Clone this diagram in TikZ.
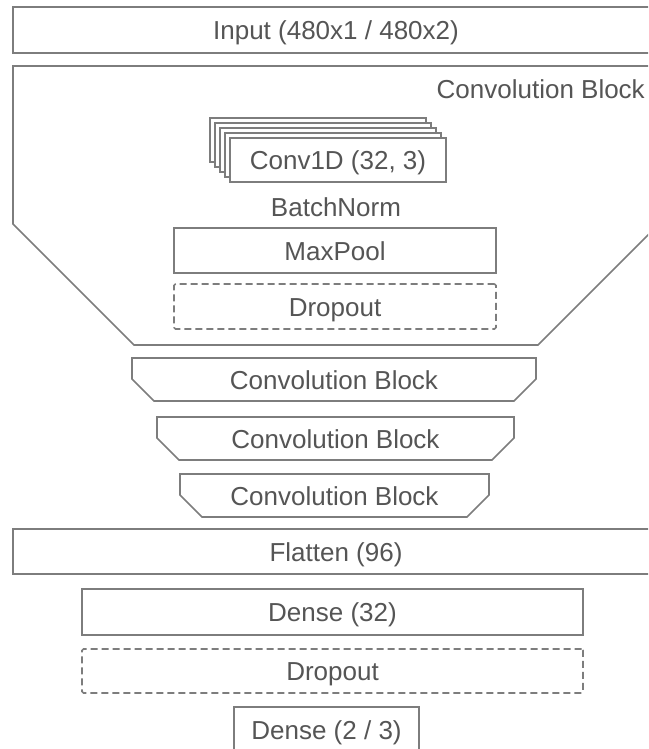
\documentclass[tikz,border=0pt]{standalone}
\usepackage{fontspec}
\setmainfont{Liberation Sans}
\definecolor{linegray}{RGB}{125,125,125}
\definecolor{textgray}{RGB}{85,85,85}
\def\blockshape[#1](#2:#3:#4:#5:#6){\draw[#1] (#2,#4) -- (#3,#4) -- (#3,#5-#6) -- (#3-#6,#5) -- (#2+#6,#5) -- (#2,#5-#6) -- cycle;}

\begin{document}
\begin{tikzpicture}[x=1pt,y=-1pt,
	blockline/.style={draw=linegray, line width=1.6pt, fill=white},
	tag/.style={inner sep=0pt, text=textgray, font=\fontsize{26}{30}\selectfont, text height=19pt, text depth=0pt},
	layer/.style={tag, draw=linegray, line width=1.6pt, fill=white},
	droplayer/.style={layer, dash pattern=on 7pt off 4pt, rounded corners=1.5pt}]
			%%%%% START %%%%%
			\useasboundingbox (0,0) rectangle (648,749);
			\clip (0,0) rectangle (648,749);
			
			\node[layer, minimum width=646, minimum height=46] (input) at (336,30) {Input (480x1 / 480x2)};
			
			% first block, opened up
			\blockshape[blockline](13:659:66:345:121)
			\node[tag, anchor=east] (convtitle) at (645,89) {Convolution Block};
			
			\foreach \k in {4,3,2,1}
				\draw[blockline] (230-5*\k,138-5*\k) rectangle +(216,44);
			\node[layer, minimum width=216, minimum height=44] (conv1d) at (338,160) {Conv1D (32, 3)};
			\node[tag] (batchnorm) at (336,207) {BatchNorm};
			\node[layer, minimum width=322, minimum height=45] (maxpool) at (335,250.5) {MaxPool};
			\node[droplayer, minimum width=322, minimum height=45] (convdrop) at (335,306.5) {Dropout};
			
			% the other blocks
			\blockshape[blockline](132:536:358:401:22)
			\node[tag] (convb) at (334,380) {Convolution Block};
			\blockshape[blockline](157:514:417:460:22)
			\node[tag] (convc) at (335.5,438.5) {Convolution Block};
			\blockshape[blockline](180:489:474:517:22)
			\node[tag] (convd) at (334.5,495.5) {Convolution Block};
			
			\node[layer, minimum width=646, minimum height=45] (flatten) at (336,551.5) {Flatten (96)};
			\node[layer, minimum width=501, minimum height=46] (densea) at (332.5,612) {Dense (32)};
			\node[droplayer, minimum width=501, minimum height=44] (densedrop) at (332.5,671) {Dropout};
			\node[layer, minimum width=185, minimum height=46] (denseb) at (326.5,730) {Dense (2 / 3)};
			
			%%%%% END %%%%%
\end{tikzpicture}
\end{document}
